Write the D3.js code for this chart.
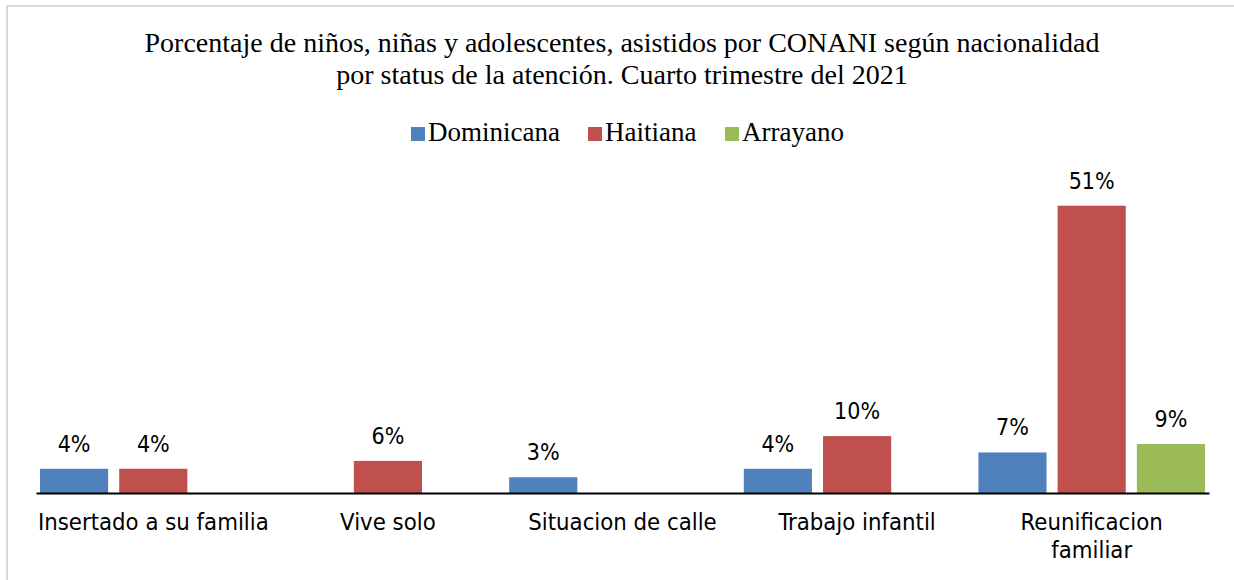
<!DOCTYPE html>
<html>
<head>
<meta charset="utf-8">
<script src="https://cdn.jsdelivr.net/npm/d3@7"></script>
<style>
  html, body { margin: 0; padding: 0; background: #fff; }
  svg { display: block; }
</style>
</head>
<body>
<svg id="chart" width="1234" height="580"></svg>
<script>
const categories = ["Insertado a su familia", "Vive solo", "Situacion de calle", "Trabajo infantil", "Reunificacion familiar"];
const tickLabels = [["Insertado a su familia"], ["Vive solo"], ["Situacion de calle"], ["Trabajo infantil"], ["Reunificacion", "familiar"]];
const seriesNames = ["Dominicana", "Haitiana", "Arrayano"];
const dominicana = [4.3, null, 2.8, 4.3, 7.2];
const haitiana = [4.3, 5.7, null, 10.1, 51];
const arrayano = [null, null, null, null, 8.7];
const seriesColors = ["#4F81BD", "#C0504D", "#9BBB59"];
const titleLines = ["Porcentaje de niños, niñas y adolescentes, asistidos por CONANI según nacionalidad",
                    "por status de la atención. Cuarto trimestre del 2021"];

const seriesValues = [dominicana, haitiana, arrayano];
const svg = d3.select("#chart");

// frame
svg.append("rect").attr("x", 7).attr("y", 6).attr("width", 1300).attr("height", 700)
  .attr("fill", "none").attr("stroke", "#d9d9d9").attr("stroke-width", 2);

// title
svg.append("g").selectAll("text").data(titleLines).join("text")
  .attr("x", 622).attr("y", (d, i) => 52 + i * 32)
  .attr("text-anchor", "middle")
  .attr("font-family", "'Liberation Serif', 'Times New Roman', serif")
  .attr("font-size", 28).attr("fill", "#000")
  .text(d => d);

// legend
const legendSquareX = [411, 588, 725];
const lg = svg.append("g");
seriesNames.forEach((name, i) => {
  lg.append("rect").attr("x", legendSquareX[i]).attr("y", 127).attr("width", 14).attr("height", 14)
    .attr("fill", seriesColors[i]);
  lg.append("text").attr("x", legendSquareX[i] + 17).attr("y", 141)
    .attr("font-family", "'Liberation Serif', 'Times New Roman', serif")
    .attr("font-size", 27).attr("fill", "#000").text(name);
});

// scales
const x0 = d3.scaleBand().domain(categories).range([36, 1209]).paddingInner(0).paddingOuter(0);
const x1 = d3.scaleBand().domain(seriesNames).range([4, x0.bandwidth() - 4]).paddingInner(0.14).paddingOuter(0);
const y = d3.scaleLinear().domain([0, 60]).range([493, 155]);

const labelFont = "'DejaVu Sans Condensed', 'DejaVu Sans', sans-serif";

// bars
const bars = [];
categories.forEach((c, ci) => {
  seriesNames.forEach((s, si) => {
    const v = seriesValues[si][ci];
    if (v != null) bars.push({ c, s, v, si });
  });
});

const g = svg.append("g");
g.selectAll("rect.bar").data(bars).join("rect").attr("class", "bar")
  .attr("x", d => x0(d.c) + x1(d.s))
  .attr("y", d => y(d.v))
  .attr("width", x1.bandwidth())
  .attr("height", d => y(0) - y(d.v))
  .attr("fill", d => seriesColors[d.si]);

g.selectAll("text.val").data(bars).join("text").attr("class", "val")
  .attr("x", d => x0(d.c) + x1(d.s) + x1.bandwidth() / 2)
  .attr("y", d => y(d.v) - 17)
  .attr("text-anchor", "middle")
  .attr("font-family", labelFont).attr("font-size", 23).attr("fill", "#000")
  .text(d => Math.round(d.v) + "%");

// axis
const axis = d3.axisBottom(x0).tickSize(0).tickSizeOuter(0).tickFormat("");
const ax = svg.append("g").attr("transform", `translate(0,${y(0)})`).call(axis);
ax.select(".domain").attr("stroke", "#000").attr("stroke-width", 2);
ax.selectAll(".tick").each(function(d, i) {
  const t = d3.select(this).append("text")
    .attr("text-anchor", "middle").attr("fill", "#000")
    .attr("font-family", labelFont).attr("font-size", 23.7)
    .attr("y", 37);
  tickLabels[i].forEach((line, li) => {
    t.append("tspan").attr("x", 0).attr("dy", li === 0 ? 0 : 28).text(line);
  });
});
</script>
</body>
</html>
